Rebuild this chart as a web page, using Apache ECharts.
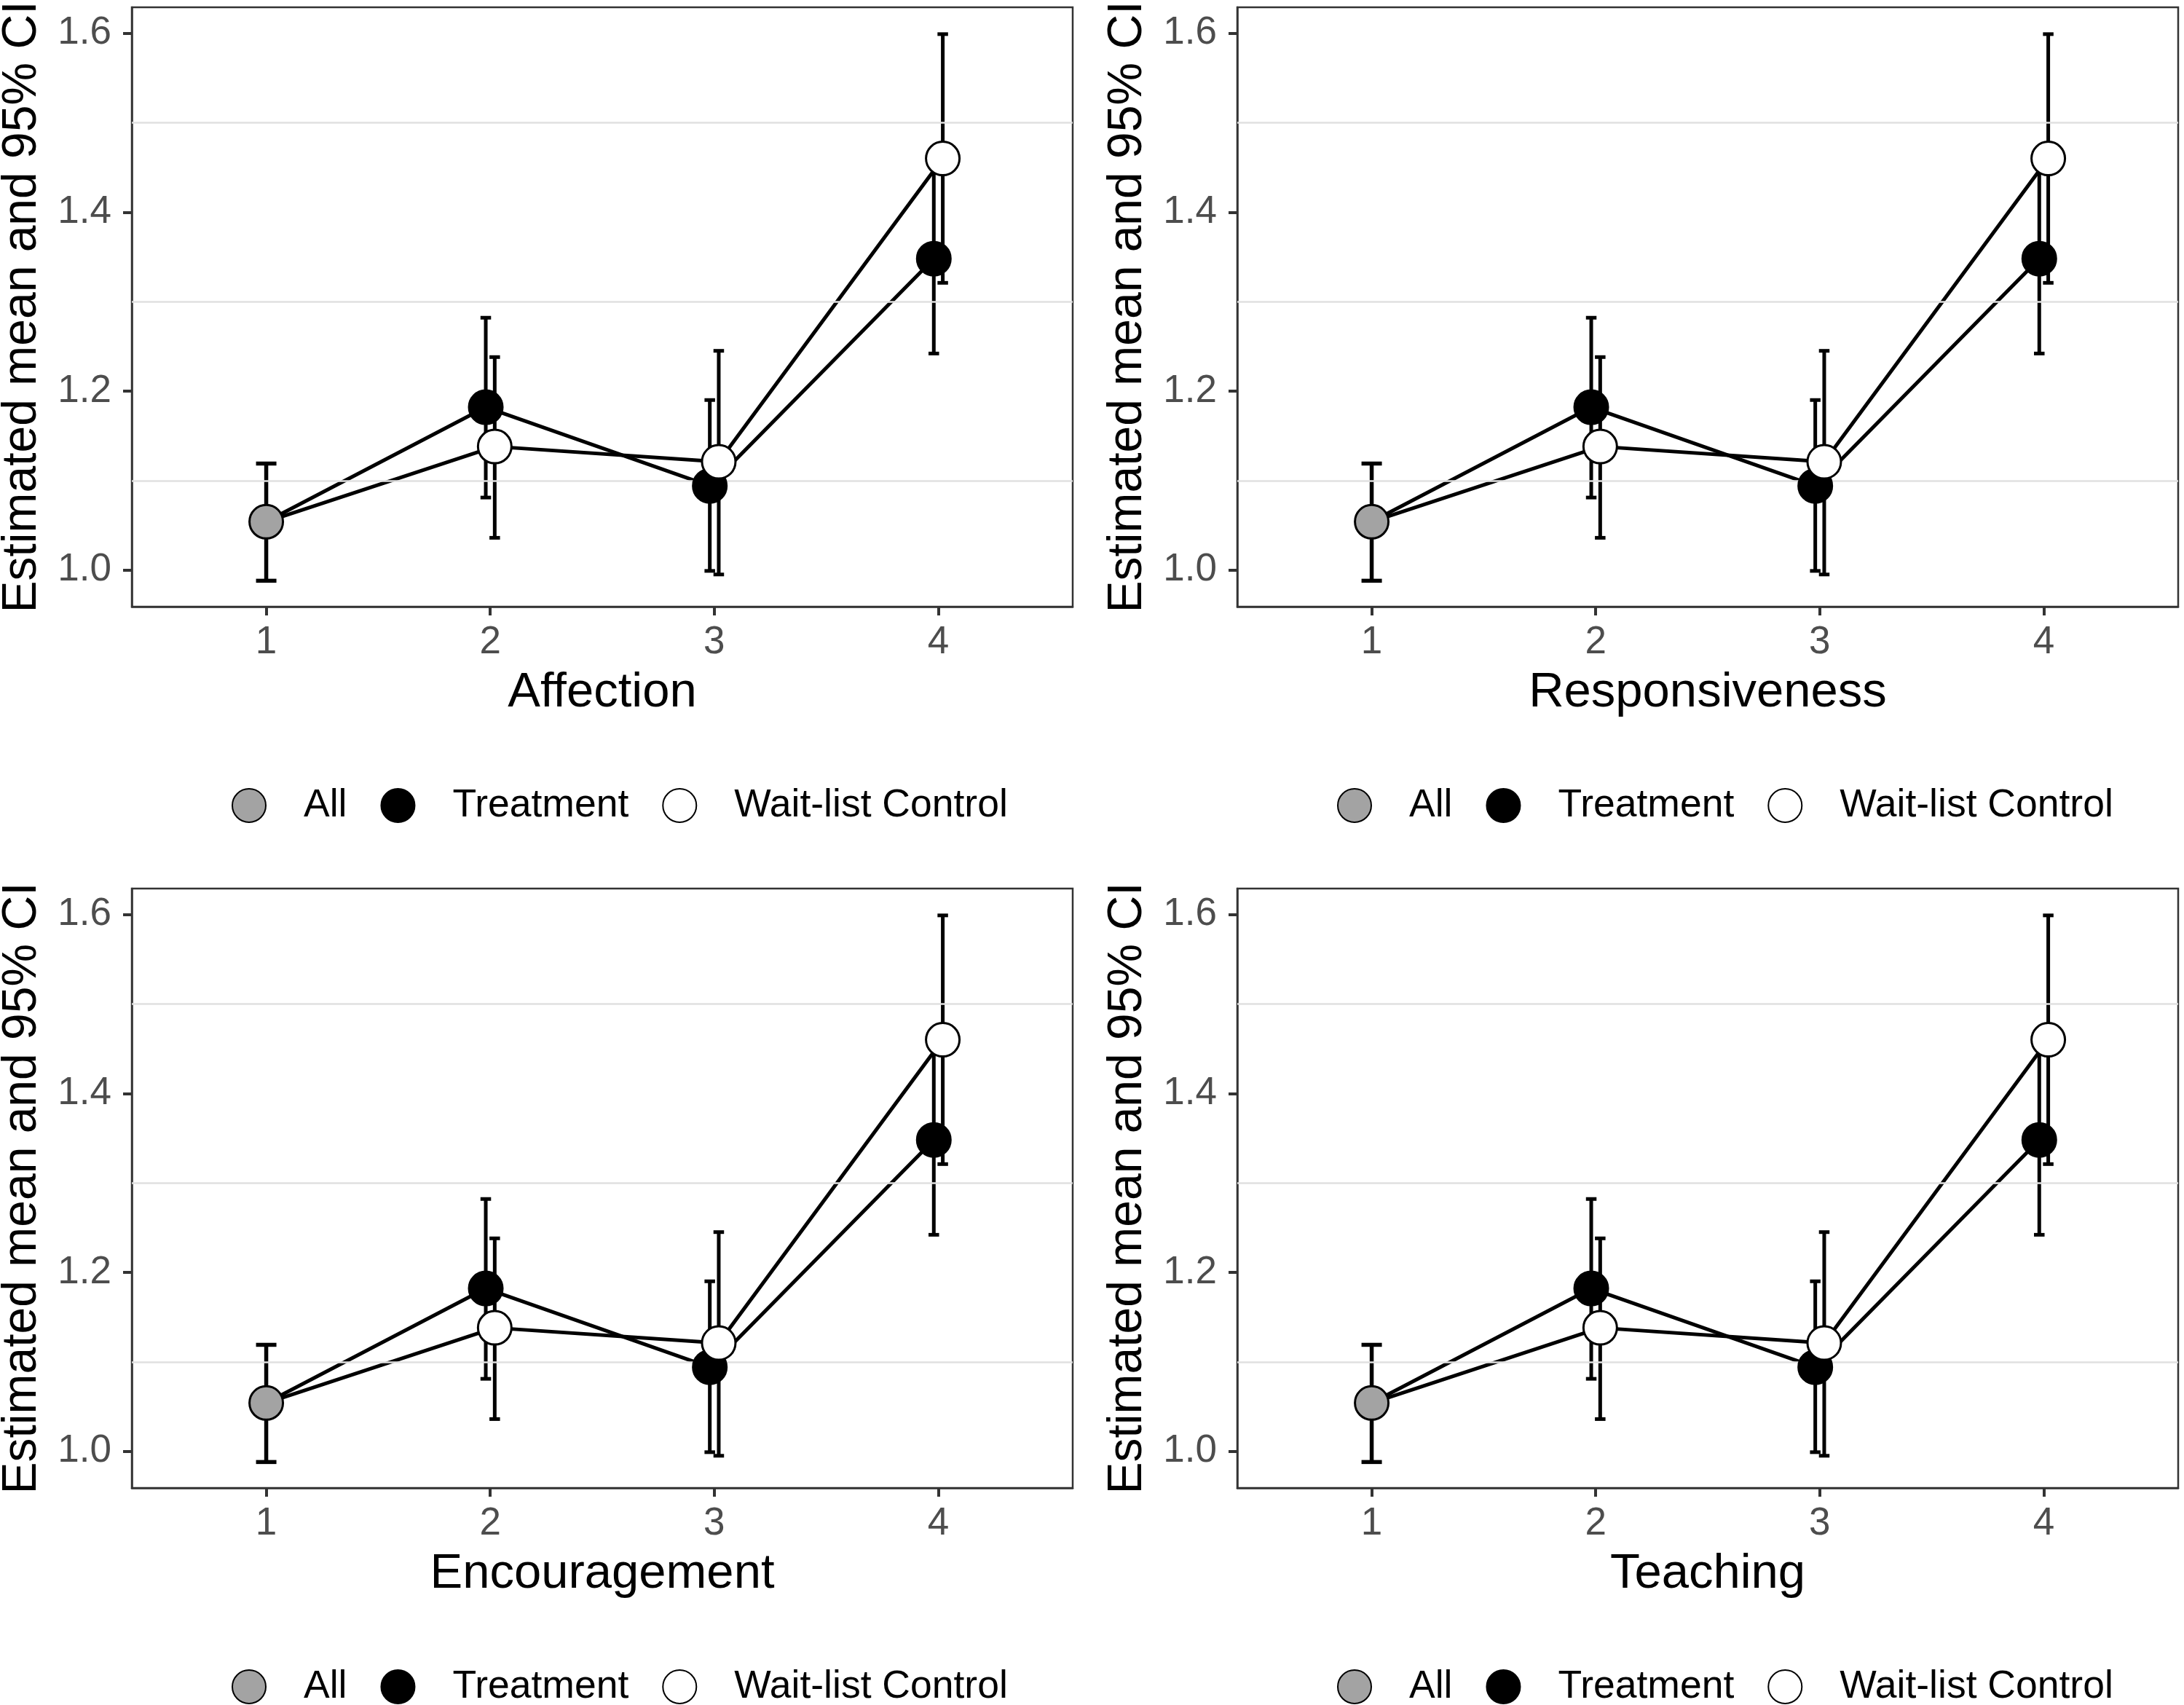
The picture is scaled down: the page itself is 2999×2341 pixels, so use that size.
<!DOCTYPE html>
<html><head><meta charset="utf-8">
<script src="https://cdn.jsdelivr.net/npm/echarts@6/dist/echarts.min.js"></script>
<style>html,body{margin:0;padding:0;background:#fff}#c{width:2999px;height:2341px}</style>
</head><body><div id="c"></div>
<script>
// ---- data ----
const panels = ['Affection', 'Responsiveness', 'Encouragement', 'Teaching'];
const xTicks = [1, 2, 3, 4];
const yTicks = [1.0, 1.2, 1.4, 1.6];
const yMinor = [1.1, 1.3, 1.5];
const groups = ['All', 'Treatment', 'Wait-list Control'];
const allTime = [1];
const allMean = [1.054];
const allLow = [0.988];
const allHigh = [1.119];
const groupTimes = [2, 3, 4];
const treatMean = [1.182, 1.094, 1.348];
const treatLow = [1.081, 0.999, 1.242];
const treatHigh = [1.282, 1.190, 1.454];
const waitMean = [1.138, 1.121, 1.460];
const waitLow = [1.036, 0.995, 1.321];
const waitHigh = [1.238, 1.245, 1.599];

// ---- layout / style constants ----
const DODGE = 0.02;
const FONT = "'Liberation Sans', Arial, Helvetica, sans-serif";
const colLeft = [181, 1699];
const rowTop = [10, 1220];
const gridW = 1292, gridH = 823;
const legendLeft = [318, 1836];
const legendTop = [1079, 2289];
const fills = {'All': '#A3A3A3', 'Treatment': '#000000', 'Wait-list Control': '#FFFFFF'};

function errRender(halfCap, lw) {
  return function (params, api) {
    const x = api.value(0), lo = api.value(1), hi = api.value(2);
    const pLo = api.coord([x, lo]), pHi = api.coord([x, hi]);
    const st = {stroke: '#000', lineWidth: lw};
    return {type: 'group', children: [
      {type: 'line', shape: {x1: pLo[0], y1: pLo[1], x2: pHi[0], y2: pHi[1]}, style: st},
      {type: 'line', shape: {x1: pLo[0] - halfCap, y1: pLo[1], x2: pLo[0] + halfCap, y2: pLo[1]}, style: st},
      {type: 'line', shape: {x1: pHi[0] - halfCap, y1: pHi[1], x2: pHi[0] + halfCap, y2: pHi[1]}, style: st}
    ]};
  };
}

const grids = [], xAxes = [], yAxes = [], legends = [], series = [];
panels.forEach((name, i) => {
  const col = i % 2, row = Math.floor(i / 2);
  grids.push({left: colLeft[col], top: rowTop[row], width: gridW, height: gridH,
    show: true, borderColor: '#333333', borderWidth: 2.5, backgroundColor: 'transparent',
    containLabel: false, outerBoundsMode: 'none'});
  xAxes.push({type: 'value', gridIndex: i, min: 0.4, max: 4.6,
    name: name, nameLocation: 'middle', nameGap: 85,
    nameTextStyle: {fontSize: 67, color: '#000', fontFamily: FONT},
    axisLine: {show: true, onZero: false, lineStyle: {color: '#333333', width: 2.5}},
    axisTick: {show: true, customValues: xTicks, length: 12, lineStyle: {color: '#333333', width: 4}},
    axisLabel: {show: true, customValues: xTicks, fontSize: 53, color: '#4D4D4D', margin: 23, fontFamily: FONT},
    splitLine: {show: false}});
  yAxes.push({type: 'value', gridIndex: i, min: 0.959, max: 1.629,
    name: 'Estimated mean and 95% CI', nameLocation: 'middle', nameRotate: 90, nameGap: 117,
    nameTextStyle: {fontSize: 66, color: '#000', fontFamily: FONT},
    axisLine: {show: true, onZero: false, lineStyle: {color: '#333333', width: 2.5}},
    axisTick: {show: true, customValues: yTicks, length: 12, lineStyle: {color: '#333333', width: 4}},
    axisLabel: {show: true, customValues: yTicks, fontSize: 53, color: '#4D4D4D', margin: 28, fontFamily: FONT,
      formatter: v => Number(v).toFixed(1)},
    splitLine: {show: false}});
  legends.push({left: legendLeft[col], top: legendTop[row], orient: 'horizontal', padding: 0,
    itemWidth: 46, itemHeight: 46, itemGap: 46, icon: 'circle', selectedMode: false, data: groups,
    textStyle: {fontSize: 53.5, lineHeight: 54, color: '#000', fontFamily: FONT, padding: [0, 0, 0, 47]}});

  // minor grid lines
  series.push({type: 'line', xAxisIndex: i, yAxisIndex: i, z: 1, silent: true,
    data: [[allTime[0], allMean[0]]], showSymbol: false, lineStyle: {opacity: 0},
    markLine: {silent: true, symbol: 'none', label: {show: false}, animation: false,
      lineStyle: {color: '#E0E0E0', width: 2.5, type: 'solid'},
      data: yMinor.map(v => ({yAxis: v}))}});
  // connecting lines
  const tLine = [[allTime[0], allMean[0]]].concat(groupTimes.map((t, k) => [t - DODGE, treatMean[k]]));
  const wLine = [[allTime[0], allMean[0]]].concat(groupTimes.map((t, k) => [t + DODGE, waitMean[k]]));
  [tLine, wLine].forEach((d, j) => series.push({type: 'line', name: 'line' + j, xAxisIndex: i, yAxisIndex: i, z: 2,
    data: d, showSymbol: false, symbol: 'none', silent: true, animation: false,
    lineStyle: {color: '#000', width: 5}}));
  // error bars
  series.push({type: 'custom', name: 'errAll', xAxisIndex: i, yAxisIndex: i, z: 3, silent: true,
    renderItem: errRender(14, 5.5), encode: {x: 0, y: [1, 2]},
    data: allTime.map((t, k) => [t, allLow[k], allHigh[k]])});
  series.push({type: 'custom', name: 'errT', xAxisIndex: i, yAxisIndex: i, z: 3, silent: true,
    renderItem: errRender(7.25, 5), encode: {x: 0, y: [1, 2]},
    data: groupTimes.map((t, k) => [t - DODGE, treatLow[k], treatHigh[k]])});
  series.push({type: 'custom', name: 'errW', xAxisIndex: i, yAxisIndex: i, z: 3, silent: true,
    renderItem: errRender(7.25, 5), encode: {x: 0, y: [1, 2]},
    data: groupTimes.map((t, k) => [t + DODGE, waitLow[k], waitHigh[k]])});
  // points
  const pts = {
    'All': allTime.map((t, k) => [t, allMean[k]]),
    'Treatment': groupTimes.map((t, k) => [t - DODGE, treatMean[k]]),
    'Wait-list Control': groupTimes.map((t, k) => [t + DODGE, waitMean[k]])
  };
  groups.forEach((g, j) => series.push({type: 'scatter', name: g, xAxisIndex: i, yAxisIndex: i, z: 4 + j,
    symbol: 'circle', symbolSize: 46, data: pts[g], silent: true,
    itemStyle: {color: fills[g], borderColor: '#000', borderWidth: 3, opacity: 1}}));
});

const chart = echarts.init(document.getElementById('c'), null, {renderer: 'canvas'});
chart.setOption({backgroundColor: '#fff', animation: false, textStyle: {fontFamily: FONT},
  grid: grids, xAxis: xAxes, yAxis: yAxes, legend: legends, series: series});
</script></body></html>
